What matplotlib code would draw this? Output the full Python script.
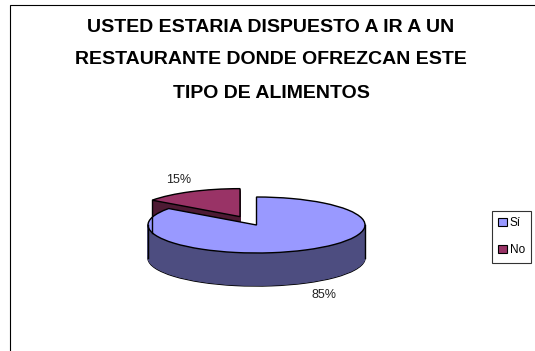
import numpy as np
import matplotlib.pyplot as plt
from matplotlib.patches import Rectangle, Patch

# data
labels = ["Sí", "No"]
values = [85, 15]
pct_labels = ["85%", "15%"]
top_colors = ["#9999FF", "#993366"]
side_colors = ["#4D4D80", "#4D1A33"]
explode = [0, 0.335]
title_lines = ["USTED ESTARIA DISPUESTO A IR A UN",
               "RESTAURANTE DONDE OFREZCAN ESTE",
               "TIPO DE ALIMENTOS"]

plt.rcParams['font.family'] = ['Liberation Sans', 'DejaVu Sans']

fig = plt.figure(figsize=(5.35, 3.51), dpi=100)
ax = fig.add_axes([0, 0, 1, 1])

depth = 1.18  # thickness of the 3d pie, in y units of the axes


def draw_slice(i, center, color, edge, lw):
    wedges, _ = ax.pie(values, colors=[color] * len(values), center=center,
                       startangle=90, counterclock=False, explode=explode,
                       wedgeprops=dict(edgecolor=edge, linewidth=lw))
    for j, w in enumerate(wedges):
        if j != i:
            w.set_visible(False)


# side walls: stack the pie downwards, blue first then red
levels = np.linspace(depth, 0, 60)[1:-1]
for i in range(len(values)):
    draw_slice(i, (0, -depth), side_colors[i], "black", 1.0)
    for d in levels:
        draw_slice(i, (0, -d), side_colors[i], side_colors[i], 0.6)

# vertical outline of the walls
frac = np.cumsum([0] + values) / sum(values)
ang = np.deg2rad(90 - 360 * frac)          # slice boundaries
mid = np.deg2rad(90 - 360 * (frac[:-1] + frac[1:]) / 2)
for x in (-1, 1):
    ax.plot([x, x], [0, -depth], color="black", lw=1.0)
ox, oy = explode[1] * np.cos(mid[1]), explode[1] * np.sin(mid[1])
rx, ry = np.cos(ang[1]) + ox, np.sin(ang[1]) + oy
ax.plot([rx, rx], [ry, ry - depth], color="black", lw=1.0)

# top faces, red behind blue
draw_slice(1, (0, 0), top_colors[1], "black", 1.0)
draw_slice(0, (0, 0), top_colors[0], "black", 1.0)

ax.set_aspect('auto')
ax.set_xlim(-256.5 / 108.5, (535 - 256.5) / 108.5)
ax.set_ylim((225 - 351) / 28, 225 / 28)
ax.axis('off')

# percentage labels
ax.text(0.622, -2.5, pct_labels[0], ha="center", va="center", fontsize=9, color="#222222")
ax.text(-0.714, 1.607, pct_labels[1], ha="center", va="center", fontsize=9, color="#222222")

# title
for k, line in enumerate(title_lines):
    fig.text(271 / 535, 1 - (27 + 33 * k) / 351, line, ha="center", va="center",
             fontsize=14, fontweight="bold")

# legend
handles = [Patch(facecolor=c, edgecolor="black", linewidth=0.8) for c in top_colors]
leg = fig.legend(handles, labels, loc="upper left", bbox_to_anchor=(492 / 535, 1 - 211 / 351),
                 fontsize=8.5, frameon=True, fancybox=False, borderaxespad=0,
                 handlelength=0.7, handleheight=0.7, handletextpad=0.25,
                 labelspacing=1.25, borderpad=0.55)
leg.get_frame().set_edgecolor("black")
leg.get_frame().set_linewidth(0.8)

# chart border
fig.patches.append(Rectangle((9.5 / 535, -0.1), 1.2, 1.1 - 5 / 351, transform=fig.transFigure,
                             fill=False, edgecolor="black", lw=0.8))

fig.savefig("out.png", dpi=100)
